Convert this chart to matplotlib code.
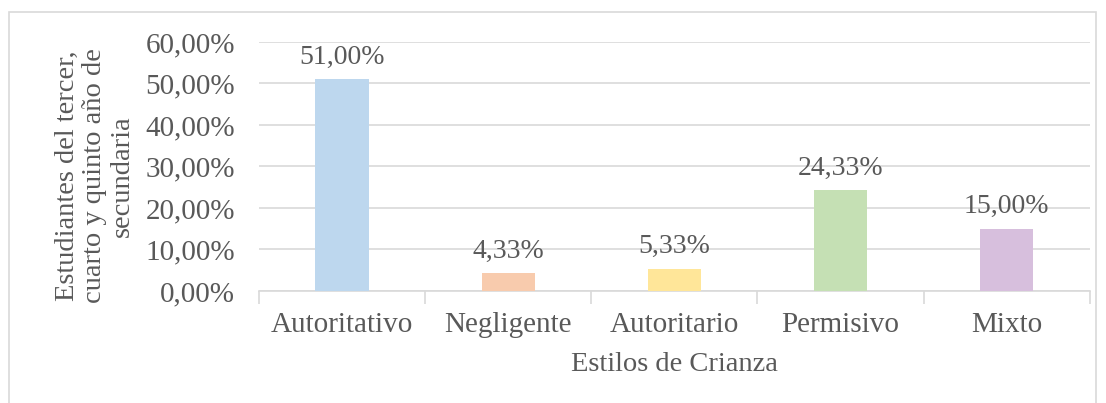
import matplotlib.pyplot as plt
from matplotlib.patches import Rectangle
import numpy as np

plt.rcParams['font.family'] = ['Liberation Serif', 'DejaVu Serif']
plt.rcParams['font.size'] = 20

# Datos
estilos = ['Autoritativo', 'Negligente', 'Autoritario', 'Permisivo', 'Mixto']
porcentajes = [51.00, 4.33, 5.33, 24.33, 15.00]
colores = ['#BDD7EE', '#F8CBAD', '#FFE699', '#C5E0B4', '#D7BFDD']
etiquetas = ['51,00%', '4,33%', '5,33%', '24,33%', '15,00%']

gris_texto = '#595959'
gris_linea = '#D9D9D9'

fig = plt.figure(figsize=(11.06, 4.03), dpi=100)
ax = fig.add_axes([0.234, 0.278, 0.7515, 0.618])

# Marco exterior del grafico
fig.patches.append(Rectangle((9 / 1106, -0.05), 1087 / 1106, 1.05 - 12 / 403,
                             transform=fig.transFigure, fill=False,
                             edgecolor=gris_linea, linewidth=1.2))

x = np.arange(len(estilos))
ax.bar(x, porcentajes, width=0.32, color=colores, zorder=3)

for xi, v, t in zip(x, porcentajes, etiquetas):
    ax.text(xi, v + 2.3, t, ha='center', va='bottom', color=gris_texto, fontsize=20)

ax.set_xlim(-0.5, len(estilos) - 0.5)
ax.set_ylim(0, 60)
ax.set_yticks(np.arange(0, 61, 10))
ax.set_yticklabels([f'{v},00%' for v in range(0, 61, 10)])
ax.grid(axis='y', color=gris_linea, linewidth=1.2, zorder=0)

ax.set_xticks(x)
ax.set_xticklabels(estilos)
ax.set_xticks(np.arange(-0.5, len(estilos)), minor=True)
ax.tick_params(axis='x', which='major', length=0, pad=15, colors=gris_texto, labelsize=21)
ax.tick_params(axis='x', which='minor', length=9, color=gris_linea, width=1.2)
ax.tick_params(axis='y', length=0, pad=17, colors=gris_texto, labelsize=21)

for s in ['top', 'right', 'left']:
    ax.spines[s].set_visible(False)
ax.spines['bottom'].set_color(gris_linea)
ax.spines['bottom'].set_linewidth(1.2)

ax.set_xlabel('Estilos de Crianza', color=gris_texto, fontsize=20.5)
ax.xaxis.set_label_coords(0.5, -0.245)
ax.set_ylabel('Estudiantes del tercer,\ncuarto y quinto año de\nsecundaria', color=gris_texto,
              fontsize=20.5, linespacing=1.13)
ax.yaxis.set_label_coords(-0.149, 0.462)

fig.savefig('out.png', dpi=100)
